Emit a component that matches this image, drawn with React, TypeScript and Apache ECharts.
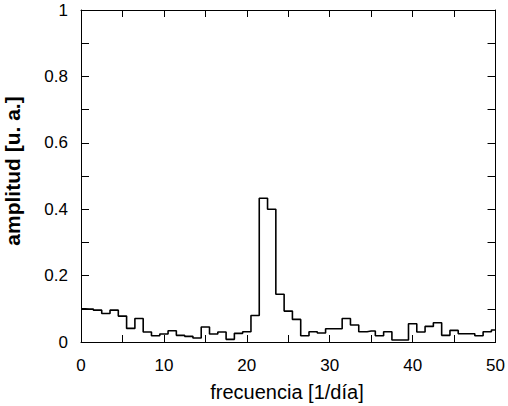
import React, { useEffect, useRef } from "react";
import * as echarts from "echarts";

const frequencies = [
  0, 1, 2, 3, 4, 5, 6, 7, 8, 9, 10, 11, 12, 13, 14, 15, 16, 17, 18, 19, 20,
  21, 22, 23, 24, 25, 26, 27, 28, 29, 30, 31, 32, 33, 34, 35, 36, 37, 38, 39,
  40, 41, 42, 43, 44, 45, 46, 47, 48, 49, 50,
];
const amplitudes = [
  0.1, 0.099, 0.096, 0.086, 0.096, 0.078, 0.041, 0.071, 0.03, 0.019, 0.024,
  0.034, 0.02, 0.017, 0.012, 0.045, 0.024, 0.03, 0.008, 0.026, 0.031, 0.08,
  0.433, 0.4, 0.144, 0.093, 0.068, 0.019, 0.031, 0.027, 0.04, 0.04, 0.071,
  0.051, 0.031, 0.033, 0.019, 0.031, 0.006, 0.006, 0.055, 0.03, 0.047, 0.058,
  0.02, 0.035, 0.025, 0.025, 0.019, 0.031, 0.036,
];
const xTitle = "frecuencia [1/día]";
const yTitle = "amplitud [u. a.]";

const FONT = "'Liberation Sans', Arial, sans-serif";

export default function App() {
  const ref = useRef<HTMLDivElement>(null);
  useEffect(() => {
    if (!ref.current) return;
    const chart = echarts.init(ref.current, undefined, { renderer: "svg" });
    const tickCommon = {
      axisLine: { show: true, onZero: false, lineStyle: { color: "#000", width: 1 } },
      axisTick: { show: true, inside: true, length: 7, lineStyle: { color: "#000", width: 1 } },
      minorTick: { show: true, splitNumber: 2, length: 7, lineStyle: { color: "#000", width: 1 } },
      splitLine: { show: false },
      minorSplitLine: { show: false },
    };
    const yTicks = {
      axisTick: { show: true, inside: true, length: 8, lineStyle: { color: "#000", width: 1 } },
      minorTick: { show: true, splitNumber: 2, length: 8, lineStyle: { color: "#000", width: 1 } },
    };
    chart.setOption({
      animation: false,
      backgroundColor: "#fff",
      grid: { left: 81, right: 11, top: 10, bottom: 64, containLabel: false },
      xAxis: [
        {
          type: "value",
          min: 0,
          max: 50,
          interval: 10,
          position: "bottom",
          ...tickCommon,
          axisLabel: { color: "#000", fontSize: 17, fontFamily: FONT, margin: 15 },
        },
        {
          type: "value",
          min: 0,
          max: 50,
          interval: 10,
          position: "top",
          ...tickCommon,
          axisLabel: { show: false },
        },
      ],
      yAxis: [
        {
          type: "value",
          min: 0,
          max: 1,
          interval: 0.2,
          position: "left",
          ...tickCommon,
          ...yTicks,
          axisLabel: { color: "#000", fontSize: 17, fontFamily: FONT, margin: 13 },
        },
        {
          type: "value",
          min: 0,
          max: 1,
          interval: 0.2,
          position: "right",
          ...tickCommon,
          ...yTicks,
          axisLabel: { show: false },
        },
      ],
      series: [
        {
          type: "line",
          step: "middle",
          xAxisIndex: 0,
          yAxisIndex: 0,
          symbol: "none",
          data: frequencies.map((f, i) => [f, amplitudes[i]]),
          lineStyle: { color: "#000", width: 1.6 },
        },
      ],
      graphic: [
        {
          type: "text",
          x: 287,
          y: 392,
          style: {
            text: xTitle,
            fill: "#000",
            font: `20px ${FONT}`,
            textAlign: "center",
            textVerticalAlign: "middle",
          },
        },
        {
          type: "text",
          x: 12,
          y: 171,
          rotation: Math.PI / 2,
          style: {
            text: yTitle,
            fill: "#000",
            font: `bold 21px ${FONT}`,
            textAlign: "center",
            textVerticalAlign: "middle",
          },
        },
      ],
    });
    return () => chart.dispose();
  }, []);
  return <div ref={ref} style={{ width: 508, height: 406, position: "fixed", left: 0, top: 0 }} />;
}
